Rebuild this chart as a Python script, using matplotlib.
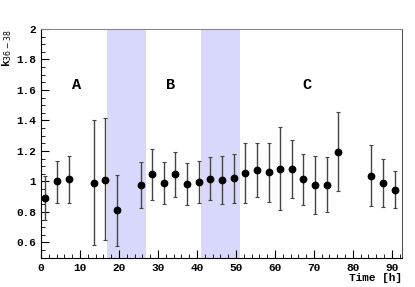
import numpy as np
import matplotlib.pyplot as plt
from matplotlib.ticker import MultipleLocator

# data
time = [1.0, 4.1, 7.1, 13.5, 16.5, 19.5, 25.6, 28.5, 31.5, 34.4, 37.4, 40.4,
        43.4, 46.4, 49.4, 52.4, 55.4, 58.4, 61.3, 64.4, 67.3, 70.3, 73.3,
        76.2, 84.7, 87.7, 90.7]
k_val = [0.891, 1.000, 1.016, 0.993, 1.011, 0.810, 0.978, 1.046, 0.991, 1.046,
         0.985, 0.998, 1.018, 1.009, 1.020, 1.057, 1.075, 1.062, 1.085, 1.081,
         1.013, 0.976, 0.978, 1.195, 1.039, 0.991, 0.946]
k_top = [1.033, 1.137, 1.170, 1.400, 1.415, 1.044, 1.131, 1.212, 1.129, 1.195,
         1.122, 1.135, 1.162, 1.166, 1.183, 1.253, 1.253, 1.253, 1.356, 1.269,
         1.181, 1.168, 1.160, 1.456, 1.238, 1.147, 1.068]
k_bot = [0.745, 0.858, 0.858, 0.583, 0.618, 0.574, 0.826, 0.880, 0.852, 0.895,
         0.847, 0.858, 0.876, 0.852, 0.858, 0.858, 0.895, 0.867, 0.815, 0.889,
         0.845, 0.786, 0.800, 0.935, 0.841, 0.832, 0.823]

bands = [(17, 27), (41, 51)]
region_labels = ["A", "B", "C"]
region_x = [9.2, 33.3, 68.2]

k_val = np.array(k_val)
yerr = [k_val - np.array(k_bot), np.array(k_top) - k_val]

fig = plt.figure(figsize=(4.15, 2.87), dpi=100)
ax = fig.add_axes([0.0988, 0.102, 0.8699, 0.797])

for lo, hi in bands:
    ax.axvspan(lo, hi, color="#d8d8fc", lw=0, zorder=0)

ax.errorbar(time, k_val, yerr=yerr, fmt="o", color="black", ms=4.6,
            ecolor="#444444", elinewidth=1, capsize=1.5, capthick=0.8, zorder=3)

for lab, xp in zip(region_labels, region_x):
    ax.text(xp, 1.63, lab, fontsize=11, fontweight="bold",
            family="Liberation Mono", ha="center", va="center")

ax.set_xlim(0, 92.6)
ax.set_ylim(0.5, 2.0)
ax.xaxis.set_major_locator(MultipleLocator(10))
ax.xaxis.set_minor_locator(MultipleLocator(2))
ax.yaxis.set_minor_locator(MultipleLocator(0.05))
ax.set_yticks([0.6, 0.8, 1.0, 1.2, 1.4, 1.6, 1.8, 2.0])
ax.set_yticklabels(["0.6", "0.8", "1", "1.2", "1.4", "1.6", "1.8", "2"])
ax.tick_params(which="major", length=6, direction="in", labelsize=8)
ax.tick_params(which="minor", length=3, direction="in")
ax.tick_params(axis="x", which="both", direction="in", pad=4)
for lbl in ax.get_xticklabels() + ax.get_yticklabels():
    lbl.set_family("Liberation Mono")
    lbl.set_fontweight("bold")

ax.spines["top"].set_color("#888888")
ax.spines["right"].set_color("#555555")

ax.set_xlabel("Time [h]", family="Liberation Mono", fontweight="bold",
              fontsize=8, loc="right", labelpad=0)
ax.set_ylabel(r"k$_{36-38}$", family="Liberation Mono", fontweight="bold",
              fontsize=8, loc="top")
ax.yaxis.set_label_coords(-0.075, 1.0)

fig.savefig("out.png", dpi=100)
